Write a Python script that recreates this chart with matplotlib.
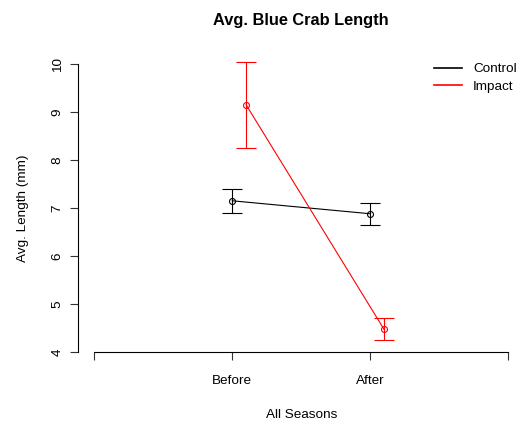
import matplotlib
matplotlib.use('Agg')
import matplotlib.pyplot as plt
from matplotlib.lines import Line2D

# mean crab length and standard error per season, by site
seasons = ['Before', 'After']
control_mean = [7.15, 6.88]
control_se = [0.25, 0.23]
impact_mean = [9.15, 4.47]
impact_se = [0.89, 0.23]

plt.rcParams['font.family'] = ['Liberation Sans', 'DejaVu Sans']
plt.rcParams['font.size'] = 9.7

fig = plt.figure(figsize=(5.24, 4.26), dpi=100)
ax = fig.add_axes([78.3 / 524, 62.5 / 426, 446 / 524, 311 / 426])

xpos = [1, 2]
dodge = 0.1

ax.errorbar(xpos, control_mean, yerr=control_se, color='black', lw=0.8,
            capsize=7.5, capthick=0.8, marker='o', ms=4.3, mfc='none',
            mew=0.8, clip_on=False)
ax.errorbar([x + dodge for x in xpos], impact_mean, yerr=impact_se,
            color='red', lw=0.8, capsize=7.5, capthick=0.8, marker='o',
            ms=4.3, mfc='none', mew=0.8, clip_on=False)

ax.set_xlim(-0.116, 3.116)
ax.set_ylim(3.76, 10.24)

# base-graphics style axes: detached, only spanning the ticks
for s in ['top', 'right']:
    ax.spines[s].set_visible(False)
ax.spines['bottom'].set_position(('data', 4))
ax.spines['bottom'].set_bounds(0, 3)
ax.spines['left'].set_bounds(4, 10)
for s in ['bottom', 'left']:
    ax.spines[s].set_linewidth(0.8)

ax.set_xticks([0, 1, 2, 3])
ax.set_xticklabels([''] + seasons + [''])
ax.set_yticks(range(4, 11))
ax.tick_params(axis='both', length=5.5, width=0.8, color='#333333')
ax.tick_params(axis='x', pad=11)
ax.tick_params(axis='y', pad=5)
for lab in ax.get_yticklabels():
    lab.set_rotation(90)
    lab.set_va('center')

ax.set_title('Avg. Blue Crab Length', fontsize=11.8, fontweight='bold',
             pad=20)
ax.set_xlabel('All Seasons', labelpad=16)
ax.set_ylabel('Avg. Length (mm)', labelpad=16)

handles = [Line2D([], [], color='black', lw=1.2),
           Line2D([], [], color='red', lw=1.2)]
ax.legend(handles, ['Control', 'Impact'], loc='upper left',
          bbox_to_anchor=(434 / 524, 1 - 63 / 426),
          bbox_transform=fig.transFigure, frameon=False, borderpad=0,
          borderaxespad=0, handlelength=2.1, handletextpad=0.8,
          labelspacing=0.35)

fig.savefig('out.png', dpi=100)
